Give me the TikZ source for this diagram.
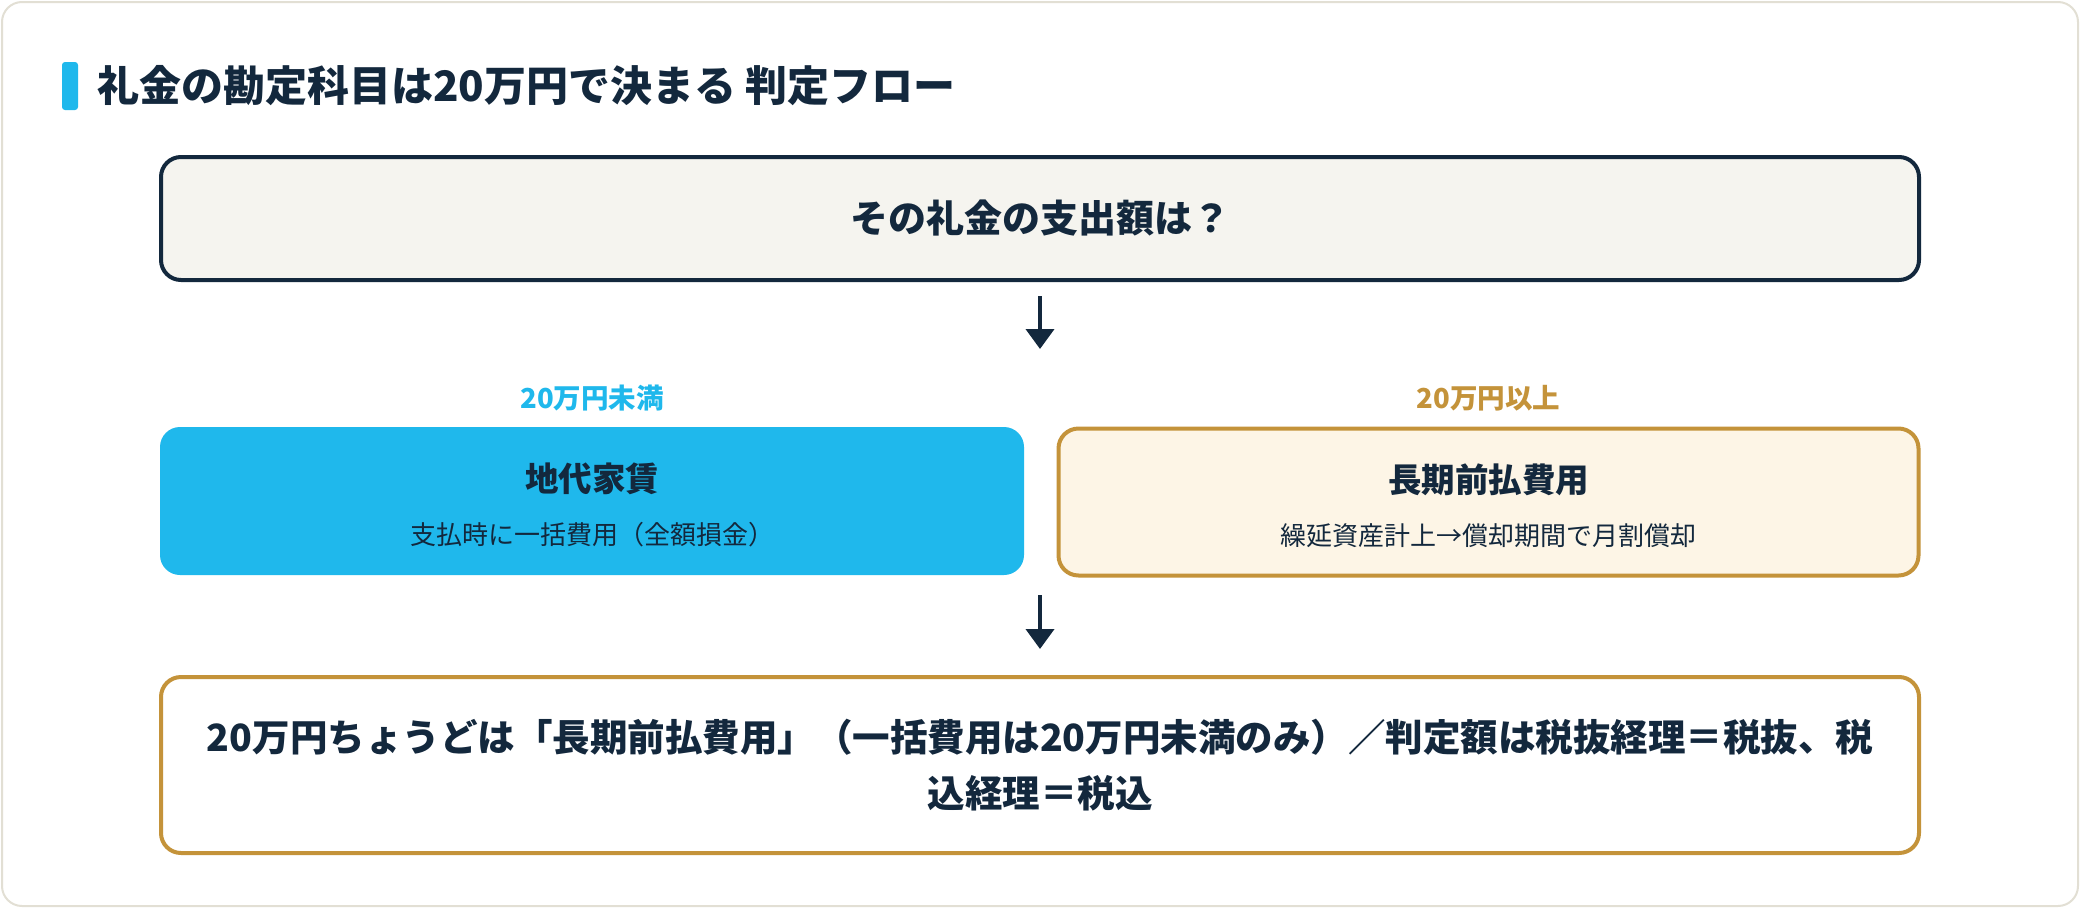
\documentclass[tikz,border=0pt]{standalone}
\usepackage{fontspec}
\setmainfont{Noto Sans CJK JP}
\usetikzlibrary{arrows.meta}
\definecolor{navy}{HTML}{13283D}
\definecolor{sky}{HTML}{1FB8EC}
\definecolor{gold}{HTML}{C4933A}
\definecolor{cream}{HTML}{FDF5E6}
\definecolor{paper}{HTML}{F5F4EF}
\definecolor{cardline}{HTML}{E2DFD4}
\tikzset{
  box/.style={rectangle, rounded corners=20pt, line width=4pt, align=center, text=navy, inner sep=0pt},
  arr/.style={line width=4pt, draw=navy, -{Triangle[length=20pt,width=28pt]}},
  lbl/.style={font=\fontsize{27.5}{31}\selectfont\bfseries, inner sep=0pt},
  btitle/.style={text=navy, font=\fontsize{33.5}{37}\selectfont\bfseries, inner sep=0pt},
  bsub/.style={text=navy, font=\fontsize{26}{30}\selectfont, inner sep=0pt},
}
\begin{document}
\begin{tikzpicture}[x=1pt,y=-1pt]
\useasboundingbox (0,0) rectangle (2080,908);
% card
\draw[cardline, line width=2pt, fill=white, rounded corners=20pt] (2,2) rectangle (2078,906);
% title
\fill[sky, rounded corners=3pt] (62,62) rectangle (78,110);
\node[anchor=west, text=navy, font=\fontsize{42}{46}\selectfont\bfseries, inner sep=0pt] (title) at (97,86) {礼金の勘定科目は20万円で決まる 判定フロー};
% top box
\node[box, draw=navy, fill=paper, minimum width=1758pt, minimum height=123pt, font=\fontsize{38}{42}\selectfont\bfseries] (top) at (1040,218.5) {その礼金の支出額は？};
% labels
\node[lbl, text=sky] (llbl) at (592,398) {20万円未満};
\node[lbl, text=gold] (rlbl) at (1488.5,398) {20万円以上};
% left box
\node[box, draw=none, fill=sky, minimum width=864pt, minimum height=148pt] (left) at (592,501) {};
\node[btitle] (ltitle) at (592,479) {地代家賃};
\node[bsub] (lsub) at (592,535) {支払時に一括費用（全額損金）};
% right box
\node[box, draw=gold, fill=cream, minimum width=860pt, minimum height=147pt] (right) at (1488.5,502) {};
\node[btitle] (rtitle) at (1488.5,480) {長期前払費用};
\node[bsub] (rsub) at (1488.5,536) {繰延資産計上→償却期間で月割償却};
% bottom box
\node[box, draw=gold, fill=white, minimum width=1758pt, minimum height=176pt, font=\fontsize{37.5}{56}\selectfont\bfseries] (bottom) at (1040,765) {20万円ちょうどは「長期前払費用」（一括費用は20万円未満のみ）／判定額は税抜経理＝税抜、税\\込経理＝税込};
% arrows
\draw[arr, shorten <=14pt, shorten >=76pt] (top.south) -- (top.south |- left.north);
\draw[arr, shorten <=18pt, shorten >=26pt] (top.south |- left.south) -- (bottom.north);
\end{tikzpicture}
\end{document}
